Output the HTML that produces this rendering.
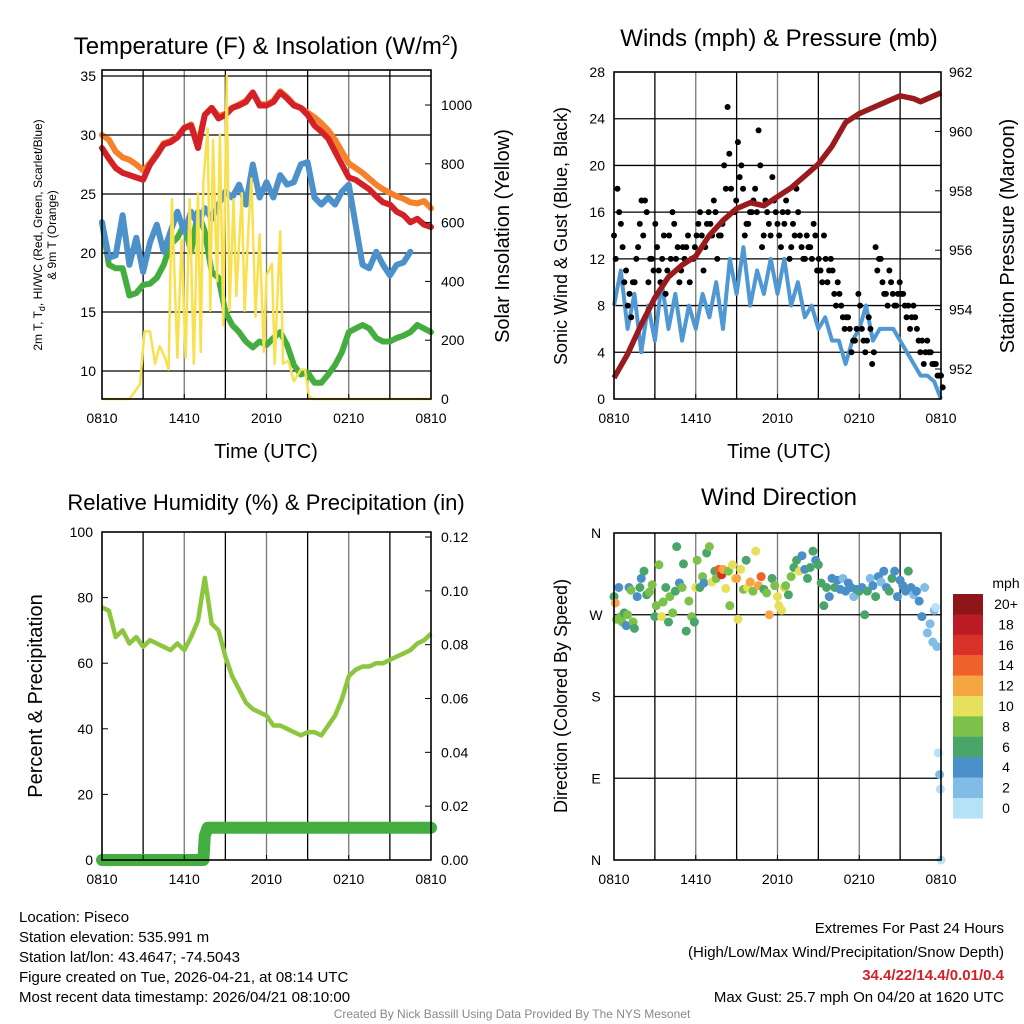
<!DOCTYPE html>
<html><head><meta charset="utf-8"><style>
body{margin:0;background:#fff;}
svg{display:block;font-family:"Liberation Sans",sans-serif;}
</style></head><body>
<svg id="c" width="1024" height="1024" viewBox="0 0 1024 1024" xmlns="http://www.w3.org/2000/svg"></svg>
<script>
// ---------- DATA ----------
const halfHours = Array.from({length:49},(_,i)=>i*0.5);
const tempRed = [28.9,28.0,27.2,26.8,26.6,26.4,26.2,27.5,28.3,29.2,29.4,29.8,30.6,30.8,28.9,31.7,32.3,31.4,31.7,32.3,32.5,32.8,33.6,32.5,32.5,32.8,33.6,33.1,32.5,32.3,31.7,30.8,30.3,29.7,28.6,27.5,26.4,26.2,25.8,25.4,24.8,24.3,24.1,23.5,23.2,22.6,22.9,22.4,22.2];
const tempOrange = [30.0,29.6,28.6,28.1,27.9,27.5,27.0,27.6,28.4,29.3,29.5,29.9,30.6,30.9,29.2,31.7,32.3,31.6,31.8,32.3,32.6,32.9,33.6,32.6,32.6,32.9,33.7,33.2,32.6,32.3,31.9,31.5,31.0,30.4,29.6,28.6,27.6,27.2,26.8,26.3,25.8,25.4,25.1,24.8,24.6,24.3,24.2,24.4,23.8];
const tempBlue = [22.6,19.6,19.8,23.2,19.0,21.3,18.4,20.9,22.4,20.1,21.8,23.5,21.8,23.5,22.4,23.8,22.9,24.1,25.2,24.7,25.8,24.1,27.5,24.7,26.0,24.7,26.6,25.8,26.0,27.5,27.7,24.7,24.1,24.7,24.1,25.2,25.8,22.4,19.0,18.7,20.1,19.0,18.1,19.0,19.2,20.1,null,21.4,null];
const dewGreen = [22.6,19.0,18.7,18.7,16.4,16.6,17.3,17.4,17.9,19.0,20.7,21.3,22.4,20.1,23.5,21.8,18.4,17.9,15.0,13.9,13.3,12.5,12.0,12.5,12.2,12.8,13.3,12.2,10.5,9.7,9.9,9.0,9.0,9.7,10.5,11.6,13.3,13.6,13.9,13.6,12.8,12.5,12.5,12.8,13.0,13.3,13.9,13.6,13.3];
const solarHours = [0,2.0,2.77,3.1,3.5,3.87,4.2,4.6,4.86,5.1,5.5,5.8,6.1,6.4,6.7,7.0,7.2,7.4,7.7,7.9,8.1,8.4,8.6,8.85,9.1,9.3,9.6,9.8,10.2,10.4,10.7,10.9,11.2,11.5,11.8,12.0,12.4,12.6,13.0,13.2,13.6,14.0,14.5,14.8,15.1,15.4,24];
const solarValues = [0,0,50,230,230,120,180,140,100,680,140,540,140,680,120,700,160,740,920,300,880,400,900,250,1100,300,680,350,700,300,600,750,280,560,160,420,460,120,570,120,130,60,100,100,10,0,0];
const windSonic = [8,11,6,9,4,8,5,10,6,9,5,8,6,9,7,10,6,12,9,13,8,11,9,12,9,12,8,10,7,8,6,7,5,5,3,5,6,8,5,6,6,6,5,4,3,2,2,1.5,0];
const gustValues = [14,18,15,10,8,7,10,13,17,17,10,12,15,11,12,9,14,16,12,10,13,13,10,12,14,16,11,15,15,17,12,14,20,25,18,16,22,20,14,15,16,18,23,13,17,15,19,16,14,16,17,12,15,18,14,12,14,13,15,11,11,14,10,12,9,10,8,6,7,4,5,9,6,4,7,3,13,12,10,9,11,9,8,10,9,7,6,8,6,4,3,5,4,3,2,2];
const gustValues2 = [12,16,13,11,9,10,12,15,14,16,12,11,13,10,14,11,12,15,13,11,12,14,12,13,15,14,13,16,14,16,14,15,18,21,16,17,19,18,15,16,17,16,20,14,16,14,17,15,13,15,16,13,14,16,13,12,13,12,14,12,10,12,11,11,8,9,7,7,6,5,6,8,5,5,6,4,11,12,9,8,10,8,9,9,8,8,7,7,5,5,4,4,3,3,2,1];
const pressureHours = [0,1,2,3,4,5,6,7,8,9,10,11,12,13,14,15,16,17,18,19,20,21,22,22.5,23,24];
const pressureValues = [951.7,952.5,953.5,954.4,955.1,955.5,955.8,956.5,957.0,957.4,957.6,957.5,957.8,958.1,958.5,958.9,959.5,960.3,960.6,960.8,961.0,961.2,961.1,961.0,961.1,961.3];
const rhValues = [77,76,68,70,66,68,65,67,66,65,64,66,64,68,73,86,72,70,62,56,52,48,46,45,44,41,41,40,39,38,39,39,38,41,44,49,56,58,59,59,60,60,61,62,63,64,66,67,69];
const precipHours = [0,7.4,7.5,7.7,24];
const precipValues = [0,0,0.009,0.012,0.012];
const dirHours = [0,0.1,0.2,0.35,0.5,0.6,0.75,0.9,1.0,1.1,1.25,1.4,1.5,1.7,1.9,2.0,2.2,2.4,2.6,2.8,3.0,
3.1,3.3,3.5,3.6,3.8,4.0,4.1,4.3,4.5,4.6,4.8,5.0,5.1,5.3,5.5,5.7,5.9,6.0,
6.1,6.3,6.5,6.6,6.8,7.0,7.2,7.4,7.5,7.7,7.9,8.0,8.2,8.4,8.5,8.7,8.9,9.0,
9.1,9.3,9.5,9.7,9.8,10.0,10.2,10.4,10.6,10.8,11.0,11.2,11.4,11.6,11.8,12.0,
12.1,12.3,12.5,12.6,12.8,13.0,13.2,13.4,13.6,13.8,14.0,14.2,14.4,14.6,14.8,15.0,
15.2,15.4,15.6,15.8,16.0,16.2,16.4,16.6,16.8,17.0,17.2,17.4,17.6,17.8,18.0,
18.2,18.4,18.6,18.8,19.0,19.2,19.4,19.6,19.8,20.0,20.2,20.4,20.6,20.8,
21.0,21.2,21.4,21.6,21.8,22.0,22.2,22.4,22.6,22.8,23.0,23.2,23.4,23.5,23.6,23.7,23.8,23.9,23.95,24.0];
const dirValues = [290,283,265,300,268,262,272,258,270,300,297,262,255,290,300,310,318,292,295,303,268,
280,325,268,284,300,262,290,272,296,345,305,300,326,252,285,268,262,300,
330,300,312,305,338,345,306,318,310,320,314,320,299,318,280,325,310,310,
265,320,298,330,300,306,296,340,302,312,298,294,270,310,302,290,
280,275,300,302,292,312,322,330,318,335,320,310,322,340,330,325,
305,280,300,290,310,300,308,298,310,296,305,300,290,298,296,
300,270,296,310,302,290,312,306,318,300,296,310,318,290,
308,302,296,318,300,292,296,285,268,300,250,260,240,275,278,235,118,94,78,0];
const dirSpeeds = [6,12,8,4,7,8,6,4,8,3,8,8,6,4,5,4,5,6,7,8,6,
8,8,10,8,6,6,7,8,6,6,4,8,6,6,8,8,6,10,
8,6,8,4,6,8,10,6,8,14,16,12,10,8,8,10,10,12,
10,10,8,6,10,12,8,10,12,14,6,8,12,6,8,10,
10,10,10,8,6,8,6,6,10,4,4,6,6,6,4,6,
6,6,6,4,4,6,4,4,2,4,4,4,2,4,6,
4,6,6,2,4,6,4,2,4,4,6,6,4,4,
4,4,4,6,4,2,4,4,4,2,2,2,2,2,0,2,0,2,0,0];
const xTickLabels = ["0810","1410","2010","0210","0810"];
const speedLabels = ["20+","18","16","14","12","10","8","6","4","2","0"];
const speedColors = ["#8e1518","#bb1b22","#d93027","#f0602a","#f6a543","#e6e05a","#7bc14a","#4aa56a","#4a8fc7","#80bce6","#b6e2f7"];

// ---------- HELPERS ----------
const NS="http://www.w3.org/2000/svg";
const svg=document.getElementById('c');
function mk(tag,attrs,parent){const e=document.createElementNS(NS,tag);for(const k in attrs)e.setAttribute(k,attrs[k]);(parent||svg).appendChild(e);return e;}
function txt(s,x,y,size,anchor,parent,extra){const e=mk('text',Object.assign({x:x,y:y,'font-size':size,'text-anchor':anchor||'middle',fill:'#000'},extra||{}),parent);e.textContent=s;return e;}
function lin(d0,d1,r0,r1){return v=>r0+(v-d0)*(r1-r0)/(d1-d0);}
function pathFrom(xs,ys,fx,fy){let d='',pen=false;for(let i=0;i<xs.length;i++){if(ys[i]===null){pen=false;continue;}d+=(pen?'L':'M')+fx(xs[i]).toFixed(1)+','+fy(ys[i]).toFixed(1);pen=true;}return d;}
function frame(g,L,T,R,B,hLines,fy){
  for(let h=3;h<24;h+=3){const x=lin(0,24,L,R)(h);mk('line',{x1:x,y1:T,x2:x,y2:B,stroke:(h%6===0)?'#777':'#000','stroke-width':1.3},g);}
  hLines.forEach(v=>{mk('line',{x1:L,y1:fy(v),x2:R,y2:fy(v),stroke:'#000','stroke-width':1.3},g);});
}
function border(g,L,T,R,B){mk('rect',{x:L,y:T,width:R-L,height:B-T,fill:'none',stroke:'#000','stroke-width':1.6},g);}
function xTicks(g,L,R,B){const fx=lin(0,24,L,R);
  for(let h=0;h<=24;h+=3){mk('line',{x1:fx(h),y1:B,x2:fx(h),y2:B-5,stroke:'#000','stroke-width':1},g);}
  xTickLabels.forEach((s,i)=>{txt(s,fx(i*6),B+24,14,'middle',g);});}

// ---------- PANEL 1 ----------
{const g=mk('g',{});
const L=102,R=431,T=70,B=399;const fx=lin(0,24,L,R);const fy=lin(10,35,371,76);const fs=lin(0,1000,399,105);
frame(g,L,T,R,B,[10,15,20,25,30,35],fy);
const s=[[tempOrange,'#f5822a','orange-9m-temp-line'],[tempRed,'#d42027','red-2m-temp-line'],[dewGreen,'#44ad3f','green-dewpoint-line'],[tempBlue,'#4c91c9','blue-hiwc-line']];
s.forEach(a=>{const p=mk('path',{d:pathFrom(halfHours,a[0],fx,fy),fill:'none',stroke:a[1],'stroke-width':6,'stroke-linejoin':'round','stroke-linecap':'round'},g);});
const sp=mk('path',{d:pathFrom(solarHours,solarValues,fx,fs),fill:'none',stroke:'#f9e04f','stroke-width':2.5,'stroke-linejoin':'round'},g);

border(g,L,T,R,B);xTicks(g,L,R,B);
[10,15,20,25,30,35].forEach(v=>{mk('line',{x1:L,y1:fy(v),x2:L+6,y2:fy(v),stroke:'#000'},g);txt(String(v),L-6,fy(v)+5,14,'end',g);});
[0,200,400,600,800,1000].forEach(v=>{mk('line',{x1:R,y1:fs(v),x2:R-6,y2:fs(v),stroke:'#000'},g);txt(String(v),R+10,fs(v)+5,14,'start',g);});
const t1=txt('',266,54,24,'middle',g);t1.innerHTML='Temperature (F) &amp; Insolation (W/m<tspan dy="-9" font-size="15">2</tspan><tspan dy="9">)</tspan>';

const yl=mk('text',{transform:'translate(42,235) rotate(-90)','font-size':12,'text-anchor':'middle'},g);yl.innerHTML='2m T, T<tspan dy="3" font-size="9">d</tspan><tspan dy="-3">, HI/WC (Red, Green, Scarlet/Blue)</tspan>';

txt('& 9m T (Orange)',0,0,12,'middle',g,{transform:'translate(56,235) rotate(-90)'});
const yr=txt('Solar Insolation (Yellow)',0,0,20,'middle',g,{transform:'translate(509,236) rotate(-90)'});
txt('Time (UTC)',266,458,20,'middle',g);}

// ---------- PANEL 2 ----------
{const g=mk('g',{});
const L=614,R=941,T=72,B=399;const fx=lin(0,24,L,R);const fy=lin(0,28,399,72);const fp=lin(952,962,369,72);
frame(g,L,T,R,B,[4,8,12,16,20,24],fy);
const bl=mk('path',{d:pathFrom(halfHours,windSonic,fx,fy),fill:'none',stroke:'#4f98d3','stroke-width':4,'stroke-linejoin':'round'},g);

gustValues.forEach((v,i)=>{const c=mk('circle',{cx:fx(i*24/95),cy:fy(v),r:3,fill:'#000'},g);});
gustValues2.forEach((v,i)=>{const c=mk('circle',{cx:fx(i*24/95+0.125),cy:fy(v),r:3,fill:'#000'},g);});
const pl=mk('path',{d:pathFrom(pressureHours,pressureValues,fx,fp),fill:'none',stroke:'#9a1b1e','stroke-width':5.5,'stroke-linejoin':'round'},g);

border(g,L,T,R,B);xTicks(g,L,R,B);
[0,4,8,12,16,20,24,28].forEach(v=>{txt(String(v),L-9,fy(v)+5,14,'end',g);});
[952,954,956,958,960,962].forEach(v=>{mk('line',{x1:R,y1:fp(v),x2:R-6,y2:fp(v),stroke:'#000'},g);txt(String(v),R+8,fp(v)+5,14,'start',g);});
const t2=txt('Winds (mph) & Pressure (mb)',779,46,24,'middle',g);
txt('Sonic Wind & Gust (Blue, Black)',0,0,18,'middle',g,{transform:'translate(567,236) rotate(-90)'});
txt('Station Pressure (Maroon)',0,0,20,'middle',g,{transform:'translate(1014,236) rotate(-90)'});
txt('Time (UTC)',779,458,20,'middle',g);}

// ---------- PANEL 3 ----------
{const g=mk('g',{});
const L=102,R=431,T=532,B=860;const fx=lin(0,24,L,R);const fy=lin(0,100,860,532);const fpr=lin(0,0.12,860,537);
frame(g,L,T,R,B,[],fy);
const pr=mk('path',{d:pathFrom(precipHours,precipValues,fx,fpr),fill:'none',stroke:'#44ad3f','stroke-width':12,'stroke-linecap':'round','stroke-linejoin':'round'},g);

const rh=mk('path',{d:pathFrom(halfHours,rhValues,fx,fy),fill:'none',stroke:'#8cc63f','stroke-width':4.5,'stroke-linejoin':'round'},g);

border(g,L,T,R,B);xTicks(g,L,R,B);
[0,20,40,60,80,100].forEach(v=>{mk('line',{x1:L,y1:fy(v),x2:L+6,y2:fy(v),stroke:'#000'},g);txt(String(v),L-9,fy(v)+5,14,'end',g);});
[0,0.02,0.04,0.06,0.08,0.10,0.12].forEach(v=>{mk('line',{x1:R,y1:fpr(v),x2:R-6,y2:fpr(v),stroke:'#000'},g);txt(v.toFixed(2),R+10,fpr(v)+5,14,'start',g);});
const t3=txt('Relative Humidity (%) & Precipitation (in)',266,510,22,'middle',g);
txt('Percent & Precipitation',0,0,20,'middle',g,{transform:'translate(42,696) rotate(-90)'});}

// ---------- PANEL 4 ----------
{const g=mk('g',{});
const L=614,R=941,T=533,B=860;const fx=lin(0,24,L,R);const fy=lin(0,360,860,533);
frame(g,L,T,R,B,[90,180,270],fy);
dirValues.forEach((d,i)=>{const sp=dirSpeeds[i];const idx=Math.max(0,Math.min(10,10-Math.round(sp/2)));
const c=mk('circle',{cx:fx(dirHours[i]),cy:fy(d),r:4.5,fill:speedColors[idx]},g);});
border(g,L,T,R,B);xTicks(g,L,R,B);
['N','E','S','W','N'].forEach((s,i)=>{txt(s,L-18,fy(i*90)+5,14,'middle',g);});
const t4=txt('Wind Direction',779,505,24,'middle',g);
txt('Direction (Colored By Speed)',0,0,18,'middle',g,{transform:'translate(567,696) rotate(-90)'});
const lg=mk('g',{},g);
txt('mph',1006,588,14,'middle',lg);
speedColors.forEach((c,i)=>{mk('rect',{x:953,y:594+i*20.4,width:30,height:20.6,fill:c},lg);txt(speedLabels[i],1006,594+i*20.4+15,14,'middle',lg);});}

// ---------- FOOTER ----------
{const g=mk('g',{});
['Location: Piseco','Station elevation: 535.991 m','Station lat/lon: 43.4647; -74.5043','Figure created on Tue, 2026-04-21, at 08:14 UTC','Most recent data timestamp: 2026/04/21 08:10:00'].forEach((s,i)=>txt(s,19,922+i*20,15,'start',g));
const e=mk('g',{});
txt('Extremes For Past 24 Hours',1004,933,15,'end',e);
txt('(High/Low/Max Wind/Precipitation/Snow Depth)',1004,957,15,'end',e);
txt('34.4/22/14.4/0.01/0.4',1004,980,15,'end',e,{fill:'#d42027','font-weight':'bold'});
txt('Max Gust: 25.7 mph On 04/20 at 1620 UTC',1004,1002,15,'end',e);
const cr=txt('Created By Nick Bassill Using Data Provided By The NYS Mesonet',512,1018,12,'middle');cr.setAttribute('fill','#888');}
</script>
</body></html>
